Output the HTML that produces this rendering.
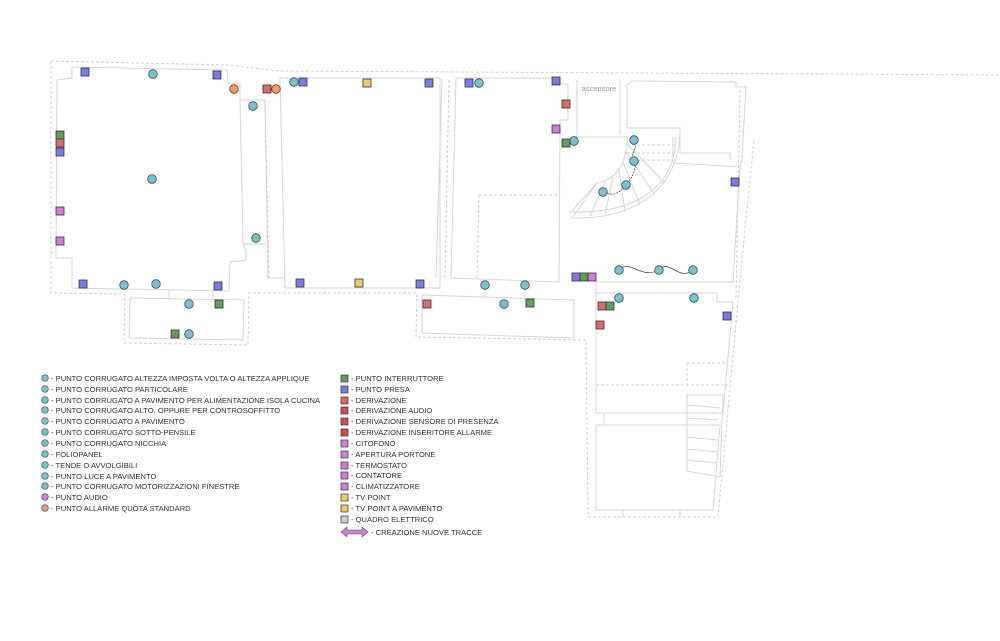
<!DOCTYPE html>
<html><head><meta charset="utf-8"><style>
body{margin:0;background:#fff}
svg{display:block}
text{font-family:"Liberation Sans",sans-serif}
.s{fill:none;stroke:#d6d6d6;stroke-width:1}
.d{fill:none;stroke:#d0d0d0;stroke-width:1;stroke-dasharray:3,2}
.lg{font-size:7.6px;fill:#333}
.m{font-size:4px;fill:#222;text-anchor:middle}
</style></head><body>
<svg width="1000" height="641" viewBox="0 0 1000 641" xmlns="http://www.w3.org/2000/svg">
<defs>
<g id="ct"><circle r="4.3" fill="#7fbfcb" stroke="#2d5560" stroke-width="0.8"/></g>
</defs>
<!-- outer dashed -->
<path class="d" d="M51,61 L227,65 L280,71 L1000,75"/>
<path class="d" d="M51,61 L51,293 L125,294 L124,343 L248,345 L249,293 L417,293 L416,337 L586,340 L588,517 L718,517 L740,280 L754,140"/>
<path class="d" d="M740,90 L736,300"/>
<!-- room 1 -->
<path class="s" d="M72,67 L227,70 L228,83 L240,84 L240,100 L243,242 L246,252 L246,260 L230,262 L229,291 L72,288 L72,258 L56,258 L57,80 L72,78 Z"/>
<path class="s" d="M240,100 L265,100 L268,278 L285,278 M244,244 L268,244"/>
<path class="d" d="M265,100 L269,278"/>
<!-- lower left box -->
<path class="s" d="M130,298 L244,300 L243,340 L129,338 Z M169,290 L169,300 M213,290 L213,300"/>
<!-- room 2 -->
<path class="s" d="M280,78 L440,78 L440,288 L285,288 Z"/>
<!-- room 3 -->
<path class="s" d="M442,78 L436,278 M456,78 L560,78 L561,84 L568,84 L568,120 L560,120 L559,282 L451,278 L456,78"/>
<path class="d" d="M479,195 L559,195 M479,195 L477,278 M449,80 L445,278"/>
<!-- ascensore -->
<path class="s" d="M577,80 L577,137 M620,80 L620,135 M568,137 L627,137"/>
<text x="599" y="91" font-size="7.5" fill="#999" text-anchor="middle">ascensore</text>
<!-- stair room -->
<path class="s" d="M627,85 L632,81 L736,82 L736,87 L746,87 L742,160 L740,167 L733,282 L596,282 M627,85 L627,128 L680,128 L680,153 L730,153 L730,160"/>
<path class="s" d="M673,163 L740,167 M673,163 L673,137"/>
<!-- stair -->
<path class="s" d="M627,137 C627,165 615,180 597,183 L570,213 M680,130 C680,185 640,220 570,218 M676,137 C675,185 640,213 573,212"/>
<path class="s" d="M597,183 L572,218 M605,182 L590,216 M613,177 L605,215 M619,170 L625,212 M623,162 L640,205 M626,152 L655,195 M627,144 L665,183"/>
<path class="d" d="M627,145 L675,145 M627,153 L675,153 M627,160 L675,160"/>
<!-- lower middle box -->
<path class="s" d="M422,295 L574,300 L574,338 L422,333 Z M485,288 L485,297 M525,288 L525,297"/>
<!-- right bottom -->
<path class="s" d="M596,282 L596,413 L723,413 L733,302 L717,302 L717,293 M596,293 L717,293 M596,425 L720,425 L713,510 L596,510 Z"/>
<path class="d" d="M596,385 L727,385 M687,363 L727,363 M687,363 L687,385"/>
<path class="s" d="M687,395 L723,395 L720,477 L687,471 Z M687,405 L720,408 M687,418 L718,420 M687,437 L718,440 M687,449 L717,452 M687,460 L716,463"/>
<path class="s" d="M604,413 L604,425 M623,510 L623,517 M680,510 L680,517"/>
<!-- squiggles -->
<path fill="none" stroke="#333" stroke-width="0.7" stroke-dasharray="2,1" d="M634,140 C640,148 628,153 634,161 C638,170 630,180 626,185 C618,195 612,196 603,192"/>
<path fill="none" stroke="#333" stroke-width="0.7" d="M619,270 C630,258 640,280 659,270 C670,258 678,282 693,270"/>
<!-- markers -->
<g font-size="4" text-anchor="middle" fill="#222">
<g id="circles">
<use href="#ct" x="153" y="74"/><use href="#ct" x="253" y="106"/><use href="#ct" x="152" y="179"/><use href="#ct" x="256" y="238"/>
<use href="#ct" x="124" y="285"/><use href="#ct" x="156" y="284"/><use href="#ct" x="189" y="304"/><use href="#ct" x="189" y="334"/>
<use href="#ct" x="294" y="82"/><use href="#ct" x="479" y="83"/><use href="#ct" x="574" y="141"/>
<use href="#ct" x="634" y="140"/><use href="#ct" x="634" y="161"/><use href="#ct" x="626" y="185"/><use href="#ct" x="603" y="192"/>
<use href="#ct" x="619" y="270"/><use href="#ct" x="659" y="270"/><use href="#ct" x="693" y="270"/>
<use href="#ct" x="485" y="285"/><use href="#ct" x="525" y="285"/><use href="#ct" x="504" y="304"/>
<use href="#ct" x="619" y="298"/><use href="#ct" x="694" y="298"/>
</g>
<circle cx="234" cy="89" r="4.3" fill="#ec9a72" stroke="#6a3a20" stroke-width="0.8"/>
<circle cx="276" cy="89" r="4.3" fill="#ec9a72" stroke="#6a3a20" stroke-width="0.8"/>
<g stroke="#333" stroke-width="0.8">
<!-- P blue -->
<g fill="#7b7be3">
<rect x="81" y="68" width="8" height="8"/><rect x="213" y="71" width="8" height="8"/><rect x="56" y="148" width="8" height="8"/>
<rect x="79" y="280" width="8" height="8"/><rect x="214" y="282" width="8" height="8"/><rect x="299" y="78" width="8" height="8"/>
<rect x="425" y="79" width="8" height="8"/><rect x="296" y="279" width="8" height="8"/><rect x="416" y="280" width="8" height="8"/>
<rect x="465" y="79" width="8" height="8"/><rect x="552" y="77" width="8" height="8"/><rect x="731" y="178" width="8" height="8"/>
<rect x="572" y="273" width="8" height="8"/><rect x="723" y="312" width="8" height="8"/>
</g>
<g fill="#5f9e5f">
<rect x="56" y="131" width="8" height="8"/><rect x="215" y="300" width="8" height="8"/><rect x="171" y="330" width="8" height="8"/>
<rect x="562" y="139" width="8" height="8"/><rect x="580" y="273" width="8" height="8"/><rect x="526" y="299" width="8" height="8"/><rect x="606" y="302" width="8" height="8"/>
</g>
<g fill="#d86a6a">
<rect x="56" y="139" width="8" height="8"/><rect x="263" y="85" width="8" height="8"/><rect x="562" y="100" width="8" height="8"/>
<rect x="423" y="300" width="8" height="8"/><rect x="598" y="302" width="8" height="8"/><rect x="596" y="321" width="8" height="8"/>
</g>
<g fill="#cf7fd6">
<rect x="56" y="207" width="8" height="8"/><rect x="56" y="237" width="8" height="8"/><rect x="552" y="125" width="8" height="8"/><rect x="588" y="273" width="8" height="8"/>
</g>
<g fill="#ebcb6e">
<rect x="363" y="79" width="8" height="8"/><rect x="355" y="279" width="8" height="8"/>
</g>
</g>
</g>
<!-- legend left -->
<g class="lg">
<g stroke="#2d5560" stroke-width="0.7" fill="#7fbfcb">
<circle cx="45" cy="378" r="3.3"/><circle cx="45" cy="389" r="3.3"/><circle cx="45" cy="400" r="3.3"/><circle cx="45" cy="410" r="3.3"/>
<circle cx="45" cy="421" r="3.3"/><circle cx="45" cy="432" r="3.3"/><circle cx="45" cy="443" r="3.3"/><circle cx="45" cy="454" r="3.3"/>
<circle cx="45" cy="465" r="3.3"/><circle cx="45" cy="476" r="3.3"/><circle cx="45" cy="486" r="3.3"/>
<circle cx="45" cy="497" r="3.3" fill="#cf7fd6"/><circle cx="45" cy="508" r="3.3" fill="#ec9a72"/>
</g>
<text x="51" y="381">- PUNTO CORRUGATO ALTEZZA IMPOSTA VOLTA O ALTEZZA APPLIQUE</text>
<text x="51" y="392">- PUNTO CORRUGATO PARTICOLARE</text>
<text x="51" y="403">- PUNTO CORRUGATO A PAVIMENTO PER ALIMENTAZIONE ISOLA CUCINA</text>
<text x="51" y="413">- PUNTO CORRUGATO ALTO, OPPURE PER CONTROSOFFITTO</text>
<text x="51" y="424">- PUNTO CORRUGATO A PAVIMENTO</text>
<text x="51" y="435">- PUNTO CORRUGATO SOTTO-PENSILE</text>
<text x="51" y="446">- PUNTO CORRUGATO NICCHIA</text>
<text x="51" y="457">- FOLIOPANEL</text>
<text x="51" y="468">- TENDE O AVVOLGIBILI</text>
<text x="51" y="479">- PUNTO LUCE A PAVIMENTO</text>
<text x="51" y="489">- PUNTO CORRUGATO MOTORIZZAZIONI FINESTRE</text>
<text x="51" y="500">- PUNTO AUDIO</text>
<text x="51" y="511">- PUNTO ALLARME QUOTA STANDARD</text>
</g>
<!-- legend right -->
<g class="lg">
<g stroke="#333" stroke-width="0.7">
<rect x="341" y="375" width="7" height="7" fill="#5f9e5f"/><rect x="341" y="386" width="7" height="7" fill="#7b7be3"/>
<rect x="341" y="397" width="7" height="7" fill="#d86a6a"/><rect x="341" y="407" width="7" height="7" fill="#c85050"/>
<rect x="341" y="418" width="7" height="7" fill="#c85050"/><rect x="341" y="429" width="7" height="7" fill="#c85050"/>
<rect x="341" y="440" width="7" height="7" fill="#cf7fd6"/><rect x="341" y="451" width="7" height="7" fill="#cf7fd6"/>
<rect x="341" y="462" width="7" height="7" fill="#cf7fd6"/><rect x="341" y="472" width="7" height="7" fill="#cf7fd6"/>
<rect x="341" y="483" width="7" height="7" fill="#cf7fd6"/><rect x="341" y="494" width="7" height="7" fill="#ebcb6e"/>
<rect x="341" y="505" width="7" height="7" fill="#ebcb6e"/><rect x="341" y="516" width="7" height="7" fill="#ccc"/>
</g>
<text x="351" y="381">- PUNTO INTERRUTTORE</text>
<text x="351" y="392">- PUNTO PRESA</text>
<text x="351" y="403">- DERIVAZIONE</text>
<text x="351" y="413">- DERIVAZIONE AUDIO</text>
<text x="351" y="424">- DERIVAZIONE SENSORE DI PRESENZA</text>
<text x="351" y="435">- DERIVAZIONE INSERITORE ALLARME</text>
<text x="351" y="446">- CITOFONO</text>
<text x="351" y="457">- APERTURA PORTONE</text>
<text x="351" y="468">- TERMOSTATO</text>
<text x="351" y="478">- CONTATORE</text>
<text x="351" y="489">- CLIMATIZZATORE</text>
<text x="351" y="500">- TV POINT</text>
<text x="351" y="511">- TV POINT A PAVIMENTO</text>
<text x="351" y="522">- QUADRO ELETTRICO</text>
<path d="M341,532 L347,527 L347,530 L362,530 L362,527 L368,532 L362,537 L362,534 L347,534 L347,537 Z" fill="#cf7fd6" stroke="#555" stroke-width="0.6"/>
<text x="371" y="535">- CREAZIONE NUOVE TRACCE</text>
</g>
</svg>
</body></html>
